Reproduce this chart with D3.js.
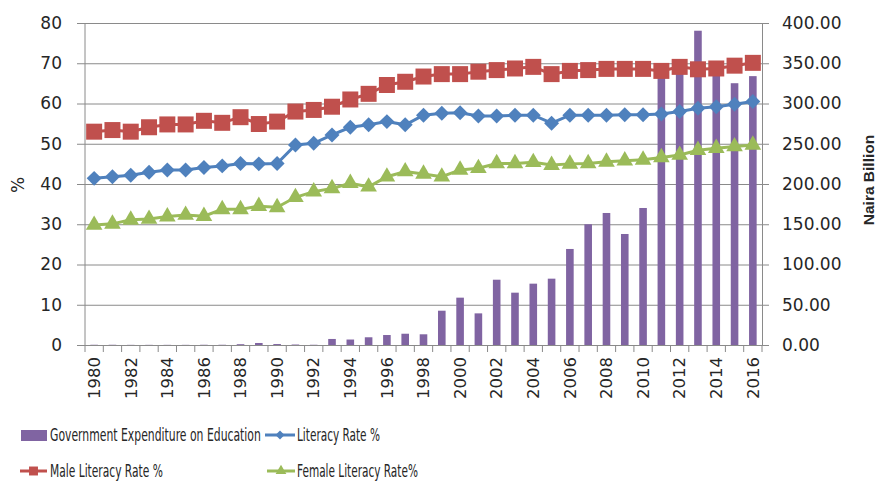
<!DOCTYPE html>
<html>
<head>
<meta charset="utf-8">
<script src="https://cdn.jsdelivr.net/npm/d3@7"></script>
<style>
  body { margin: 0; background: #fff; }
  text { fill: #262626; }
</style>
</head>
<body>
<div id="chart"></div>
<script>
// data
let years = [1980, 1981, 1982, 1983, 1984, 1985, 1986, 1987, 1988, 1989,
  1990, 1991, 1992, 1993, 1994, 1995, 1996, 1997, 1998, 1999,
  2000, 2001, 2002, 2003, 2004, 2005, 2006, 2007, 2008, 2009,
  2010, 2011, 2012, 2013, 2014, 2015, 2016];

// naira billion (right axis)
let expenditure = [0.3, 0.3, 0.2, 0.2, 0.2, 0.2, 0.3, 0.3, 1.0, 2.5,
  1.2, 0.6, 0.3, 7.5, 6.8, 9.6, 12.4, 14.0, 13.3, 42.6,
  58.8, 39.3, 81.1, 65.0, 76.2, 82.4, 119.3, 150.0, 164.0, 137.9,
  170.2, 335.8, 348.4, 390.4, 343.8, 325.2, 334.0];

// percent (left axis)
let literacy = [41.4, 41.8, 42.2, 42.9, 43.5, 43.5, 44.1, 44.5, 45.1, 45.0,
  45.1, 49.7, 50.1, 52.2, 54.1, 54.7, 55.5, 54.7, 57.1, 57.6,
  57.7, 56.9, 56.9, 57.1, 57.1, 55.1, 57.1, 57.1, 57.1, 57.2,
  57.2, 57.4, 58.0, 58.8, 59.2, 59.8, 60.5];

let maleLiteracy = [53.0, 53.4, 53.0, 54.1, 54.8, 54.8, 55.7, 55.2, 56.6, 54.9,
  55.5, 58.0, 58.4, 59.2, 61.0, 62.4, 64.6, 65.4, 66.7, 67.3,
  67.3, 67.9, 68.3, 68.7, 69.1, 67.3, 68.1, 68.3, 68.6, 68.6,
  68.6, 68.1, 69.1, 68.5, 68.7, 69.4, 70.1];

let femaleLiteracy = [29.8, 30.1, 31.1, 31.3, 31.9, 32.3, 32.0, 33.7, 33.7, 34.5,
  34.2, 36.7, 38.1, 38.9, 40.2, 39.3, 41.8, 43.1, 42.5, 41.8,
  43.5, 43.9, 45.1, 45.1, 45.4, 44.7, 45.0, 45.1, 45.5, 45.8,
  46.0, 46.6, 47.2, 48.4, 48.9, 49.3, 49.7];

let leftTicks = [0, 10, 20, 30, 40, 50, 60, 70, 80];
let rightTicks = [0, 50, 100, 150, 200, 250, 300, 350, 400];
let yearLabels = years.filter(function(d, i) { return i % 2 === 0; });

//dimension of the page and the plot area
let width = 877;
let height = 482;
let plotLeft = 85, plotRight = 762, plotTop = 23, plotBottom = 345;

let gridColor = "#8a8a8a";
let purple = "#8064a2", blue = "#4f81bd", red = "#c0504d", green = "#9bbb59";
let tickFont = "'DejaVu Sans', sans-serif";

let svg = d3.select("#chart")
  .append("svg")
  .attr("width", width)
  .attr("height", height);

//scales
let x = d3.scaleBand()
  .domain(years)
  .range([plotLeft, plotRight])
  .padding(0);

let yLeft = d3.scaleLinear()
  .domain([0, 80])
  .range([plotBottom, plotTop]);

let yRight = d3.scaleLinear()
  .domain([0, 400])
  .range([plotBottom, plotTop]);

//left axis with gridlines running across the plot
let leftAxis = svg.append("g")
  .attr("transform", "translate(" + (plotLeft - 8) + ",0)")
  .call(d3.axisLeft(yLeft)
    .tickValues(leftTicks)
    .tickSizeInner(-(plotRight - plotLeft + 8))
    .tickSizeOuter(0)
    .tickPadding(15));
leftAxis.select(".domain").remove();
leftAxis.selectAll("line").attr("stroke", gridColor);
leftAxis.selectAll("text")
  .style("font-family", tickFont)
  .style("font-size", "17px")
  .attr("fill", "#262626");

//right axis
let rightAxis = svg.append("g")
  .attr("transform", "translate(" + plotRight + ",0)")
  .call(d3.axisRight(yRight)
    .tickValues(rightTicks)
    .tickFormat(d3.format(".2f"))
    .tickSizeInner(7)
    .tickSizeOuter(0)
    .tickPadding(13));
rightAxis.select(".domain").attr("stroke", gridColor);
rightAxis.selectAll("line").attr("stroke", gridColor);
rightAxis.selectAll("text")
  .style("font-family", tickFont)
  .style("font-size", "17px")
  .attr("fill", "#262626");

//left axis line
svg.append("line")
  .attr("x1", plotLeft).attr("x2", plotLeft)
  .attr("y1", plotTop).attr("y2", plotBottom)
  .attr("stroke", gridColor);

//bottom axis: labels every second year, ticks on category edges
let bottomAxis = svg.append("g")
  .attr("transform", "translate(0," + plotBottom + ")")
  .call(d3.axisBottom(x)
    .tickValues(yearLabels)
    .tickSize(0)
    .tickPadding(0));
bottomAxis.select(".domain").attr("stroke", gridColor);
bottomAxis.selectAll("text")
  .style("font-family", tickFont)
  .style("font-size", "16.5px")
  .attr("fill", "#262626")
  .attr("text-anchor", "end")
  .attr("dy", "0.35em")
  .attr("transform", "translate(0,12) rotate(-90)")
  .attr("x", 0)
  .attr("y", 0);

svg.append("g")
  .selectAll("line")
  .data(years.concat(["end"]))
  .enter()
  .append("line")
  .attr("x1", function(d, i) { return plotLeft + i * x.bandwidth(); })
  .attr("x2", function(d, i) { return plotLeft + i * x.bandwidth(); })
  .attr("y1", plotBottom)
  .attr("y2", plotBottom + 7)
  .attr("stroke", gridColor);

//expenditure bars on the right scale
let barWidth = 7.6;
svg.append("g")
  .selectAll("rect")
  .data(expenditure)
  .enter()
  .append("rect")
  .attr("x", function(d, i) { return x(years[i]) + x.bandwidth() / 2 - barWidth / 2; })
  .attr("y", function(d) { return yRight(d); })
  .attr("width", barWidth)
  .attr("height", function(d) { return plotBottom - yRight(d); })
  .attr("fill", purple);

//line series on the left scale
function drawSeries(values, color, symbol, size, rotate) {
  let line = d3.line()
    .x(function(d, i) { return x(years[i]) + x.bandwidth() / 2; })
    .y(function(d) { return yLeft(d); });

  svg.append("path")
    .datum(values)
    .attr("d", line)
    .attr("fill", "none")
    .attr("stroke", color)
    .attr("stroke-width", 3);

  svg.append("g")
    .selectAll("path")
    .data(values)
    .enter()
    .append("path")
    .attr("d", d3.symbol().type(symbol).size(size))
    .attr("transform", function(d, i) {
      return "translate(" + (x(years[i]) + x.bandwidth() / 2) + "," + yLeft(d) + ") rotate(" + rotate + ")";
    })
    .attr("fill", color);
}

drawSeries(literacy, blue, d3.symbolSquare, 112, 45);
drawSeries(maleLiteracy, red, d3.symbolSquare, 256, 0);
drawSeries(femaleLiteracy, green, d3.symbolTriangle, 120, 0);

//axis titles
svg.append("text")
  .attr("transform", "translate(24,185) rotate(-90)")
  .attr("text-anchor", "middle")
  .style("font-family", tickFont)
  .style("font-size", "17px")
  .text("%");

svg.append("text")
  .attr("transform", "translate(874,180) rotate(-90)")
  .attr("text-anchor", "middle")
  .style("font-family", "'Liberation Sans', Arial, sans-serif")
  .style("font-size", "15.5px")
  .style("font-weight", "bold")
  .text("Naira Billion");

//legend
let legendFont = "'Liberation Sans Narrow', 'DejaVu Sans Condensed', sans-serif";
let legend = svg.append("g");

// squeeze the text horizontally so it fills the width seen in the picture
function legendText(tx, ty, str, len) {
  let t = legend.append("text")
    .attr("dy", "0.35em")
    .style("font-family", legendFont)
    .style("font-size", "17.5px")
    .text(str);
  let natural = t.node().getComputedTextLength();
  t.attr("transform", "translate(" + tx + "," + ty + ") scale(" + (len / natural) + ",1)");
}

function legendLine(x1, x2, ty, color, symbol, size, rotate) {
  legend.append("line")
    .attr("x1", x1).attr("x2", x2)
    .attr("y1", ty).attr("y2", ty)
    .attr("stroke", color)
    .attr("stroke-width", 3);
  legend.append("path")
    .attr("d", d3.symbol().type(symbol).size(size))
    .attr("transform", "translate(" + ((x1 + x2) / 2) + "," + ty + ") rotate(" + rotate + ")")
    .attr("fill", color);
}

legend.append("rect")
  .attr("x", 21).attr("y", 430)
  .attr("width", 26).attr("height", 11)
  .attr("fill", purple);
legendText(50, 435, "Government Expenditure on Education", 211);

legendLine(265, 295, 435, blue, d3.symbolSquare, 40, 45);
legendText(297, 435, "Literacy Rate %", 83);

legendLine(20, 47, 471, red, d3.symbolSquare, 80, 0);
legendText(50, 471, "Male Literacy Rate %", 113);

legendLine(267, 295, 471, green, d3.symbolTriangle, 50, 0);
legendText(297, 471, "Female Literacy Rate%", 121);
</script>
</body>
</html>
